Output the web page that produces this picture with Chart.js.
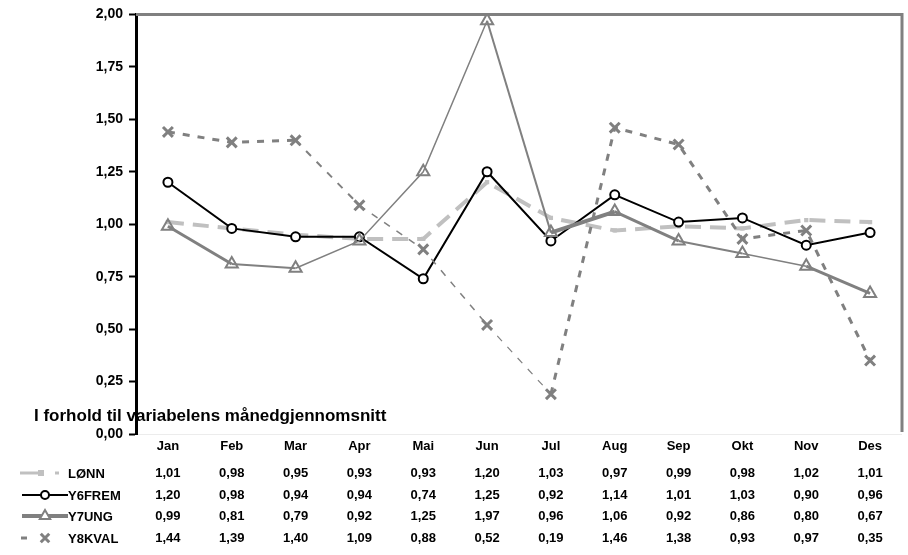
<!DOCTYPE html>
<html><head><meta charset="utf-8">
<script src="https://cdn.jsdelivr.net/npm/chart.js@4.4.1/dist/chart.umd.min.js"></script>
<style>html,body{margin:0;padding:0;background:#fff}#wrap{width:908px;height:555px}</style>
</head><body><div id="wrap"><canvas id="c" width="908" height="555"></canvas></div>
<script>
const months = ['Jan','Feb','Mar','Apr','Mai','Jun','Jul','Aug','Sep','Okt','Nov','Des'];
const seriesNames = ['LØNN','Y6FREM','Y7UNG','Y8KVAL'];
const lonn   = [1.01,0.98,0.95,0.93,0.93,1.20,1.03,0.97,0.99,0.98,1.02,1.01];
const y6frem = [1.20,0.98,0.94,0.94,0.74,1.25,0.92,1.14,1.01,1.03,0.90,0.96];
const y7ung  = [0.99,0.81,0.79,0.92,1.25,1.97,0.96,1.06,0.92,0.86,0.80,0.67];
const y8kval = [1.44,1.39,1.40,1.09,0.88,0.52,0.19,1.46,1.38,0.93,0.97,0.35];
const yTicks = [0,0.25,0.5,0.75,1,1.25,1.5,1.75,2];
const noteText = 'I forhold til variabelens månedgjennomsnitt';

const FONT = '"Liberation Sans", Arial, sans-serif';
const fmt = v => v.toFixed(2).replace('.', ',');

const y7w = [3,2,1.5,1.5,1.5,2,4,3,2,1.5,3];
const y8w = [3,3,2,1.5,1.5,1.2,3,3,3,3,3];

const datasets = [
  {label: seriesNames[0], data: lonn, borderColor:'#c0c0c0', backgroundColor:'#c0c0c0', borderWidth:4,
   borderDash:[16,9], pointStyle:'rect', pointRadius:3, pointBorderWidth:0, order:4},
  {label: seriesNames[1], data: y6frem, borderColor:'#000', backgroundColor:'#fff', borderWidth:2,
   pointStyle:'circle', pointRadius:4.5, pointBorderWidth:2, pointBackgroundColor:'#fff', pointBorderColor:'#000', order:3},
  {label: seriesNames[2], data: y7ung, borderColor:'#808080', backgroundColor:'#fff', borderWidth:2,
   segment:{borderWidth: c => y7w[c.p0DataIndex]},
   pointStyle:'triangle', pointRadius:7, pointBorderWidth:2, pointBackgroundColor:'rgba(255,255,255,0)', pointBorderColor:'#808080', order:2},
  {label: seriesNames[3], data: y8kval, borderColor:'#808080', backgroundColor:'#808080', borderWidth:3,
   borderDash:[7,8], segment:{borderWidth: c => y8w[c.p0DataIndex]},
   pointStyle:'crossRot', pointRadius:7, pointBorderWidth:3, pointBorderColor:'#808080', order:1}
];

const notePlugin = {
  id:'note',
  beforeDraw(chart){
    const ctx = chart.ctx;
    ctx.save();
    ctx.fillStyle='#fff'; ctx.fillRect(0,0,chart.width,chart.height);
    ctx.font = 'bold 17px '+FONT; ctx.fillStyle='#000';
    ctx.textBaseline='middle'; ctx.textAlign='left';
    ctx.fillText(noteText, 34, 416);
    ctx.restore();
  }
};

function drawMarker(ctx, ds, x, y){
  Chart.helpers.drawPoint(ctx, {
    pointStyle: ds.pointStyle, radius: ds.pointRadius, rotation:0,
    borderWidth: ds.pointBorderWidth
  }, x, y);
}

const framePlugin = {
  id:'frame',
  afterDraw(chart){
    const ctx = chart.ctx, a = chart.chartArea, xs = chart.scales.x;
    ctx.save();
    ctx.strokeStyle='#808080'; ctx.lineWidth=3;
    ctx.beginPath(); ctx.moveTo(a.left, a.top); ctx.lineTo(a.right, a.top); ctx.lineTo(a.right, a.bottom-2); ctx.stroke();
    const top = a.bottom;
    ctx.strokeStyle='#ececec'; ctx.lineWidth=1;
    ctx.beginPath(); ctx.moveTo(a.left+2, top+0.5); ctx.lineTo(a.right, top+0.5); ctx.stroke();
    const headerY = top+12, rowY=[top+39, top+61, top+82, top+104];
    ctx.fillStyle='#000'; ctx.font='bold 13px '+FONT; ctx.textBaseline='middle'; ctx.textAlign='center';
    months.forEach((m,i)=>{ ctx.fillText(m, xs.getPixelForValue(i), headerY); });
    const vals=[lonn,y6frem,y7ung,y8kval];
    vals.forEach((arr,r)=>{
      arr.forEach((v,i)=>{ ctx.fillText(fmt(v), xs.getPixelForValue(i), rowY[r]); });
    });
    ctx.textAlign='left';
    seriesNames.forEach((n,r)=>{ ctx.fillText(n, 68, rowY[r]+1); });
    const ky = rowY;
    ctx.strokeStyle='#c0c0c0'; ctx.lineWidth=3;
    ctx.beginPath(); ctx.moveTo(20,ky[0]); ctx.lineTo(40,ky[0]); ctx.stroke();
    ctx.beginPath(); ctx.moveTo(55,ky[0]); ctx.lineTo(59,ky[0]); ctx.stroke();
    ctx.fillStyle='#c0c0c0'; ctx.fillRect(38,ky[0]-3,6,6);
    ctx.strokeStyle='#000'; ctx.lineWidth=2;
    ctx.beginPath(); ctx.moveTo(22,ky[1]); ctx.lineTo(68,ky[1]); ctx.stroke();
    ctx.fillStyle='#fff'; ctx.strokeStyle='#000'; ctx.lineWidth=2;
    drawMarker(ctx, {pointStyle:'circle', pointRadius:4, pointBorderWidth:2}, 45, ky[1]);
    ctx.strokeStyle='#808080'; ctx.lineWidth=4;
    ctx.beginPath(); ctx.moveTo(22,ky[2]); ctx.lineTo(68,ky[2]); ctx.stroke();
    ctx.fillStyle='#fff'; ctx.strokeStyle='#808080'; ctx.lineWidth=2;
    drawMarker(ctx, {pointStyle:'triangle', pointRadius:6, pointBorderWidth:2}, 45, ky[2]);
    ctx.strokeStyle='#808080'; ctx.lineWidth=3;
    ctx.beginPath(); ctx.moveTo(21,ky[3]); ctx.lineTo(27,ky[3]); ctx.stroke();
    drawMarker(ctx, {pointStyle:'crossRot', pointRadius:6, pointBorderWidth:3}, 45, ky[3]);
    ctx.restore();
  }
};

new Chart(document.getElementById('c'), {
  type:'line',
  data:{labels: months, datasets},
  options:{
    responsive:false, devicePixelRatio:1, animation:false,
    layout:{autoPadding:false, padding:{top:14,right:6,bottom:121,left:0}},
    plugins:{legend:{display:false}, tooltip:{enabled:false}},
    elements:{line:{tension:0, fill:false}},
    scales:{
      x:{display:false, offset:true},
      y:{
        min:0, max:2,
        afterFit(s){ s.width = 136; },
        afterBuildTicks(s){ s.ticks = yTicks.map(v=>({value:v})); },
        ticks:{color:'#000', font:{family:FONT, size:14, weight:'bold'}, padding:6, callback:v=>fmt(v)},
        grid:{drawOnChartArea:false, drawTicks:true, tickLength:7, tickColor:'#000', tickWidth:2},
        border:{display:true, color:'#000', width:3}
      }
    }
  },
  plugins:[notePlugin, framePlugin]
});
</script></body></html>
